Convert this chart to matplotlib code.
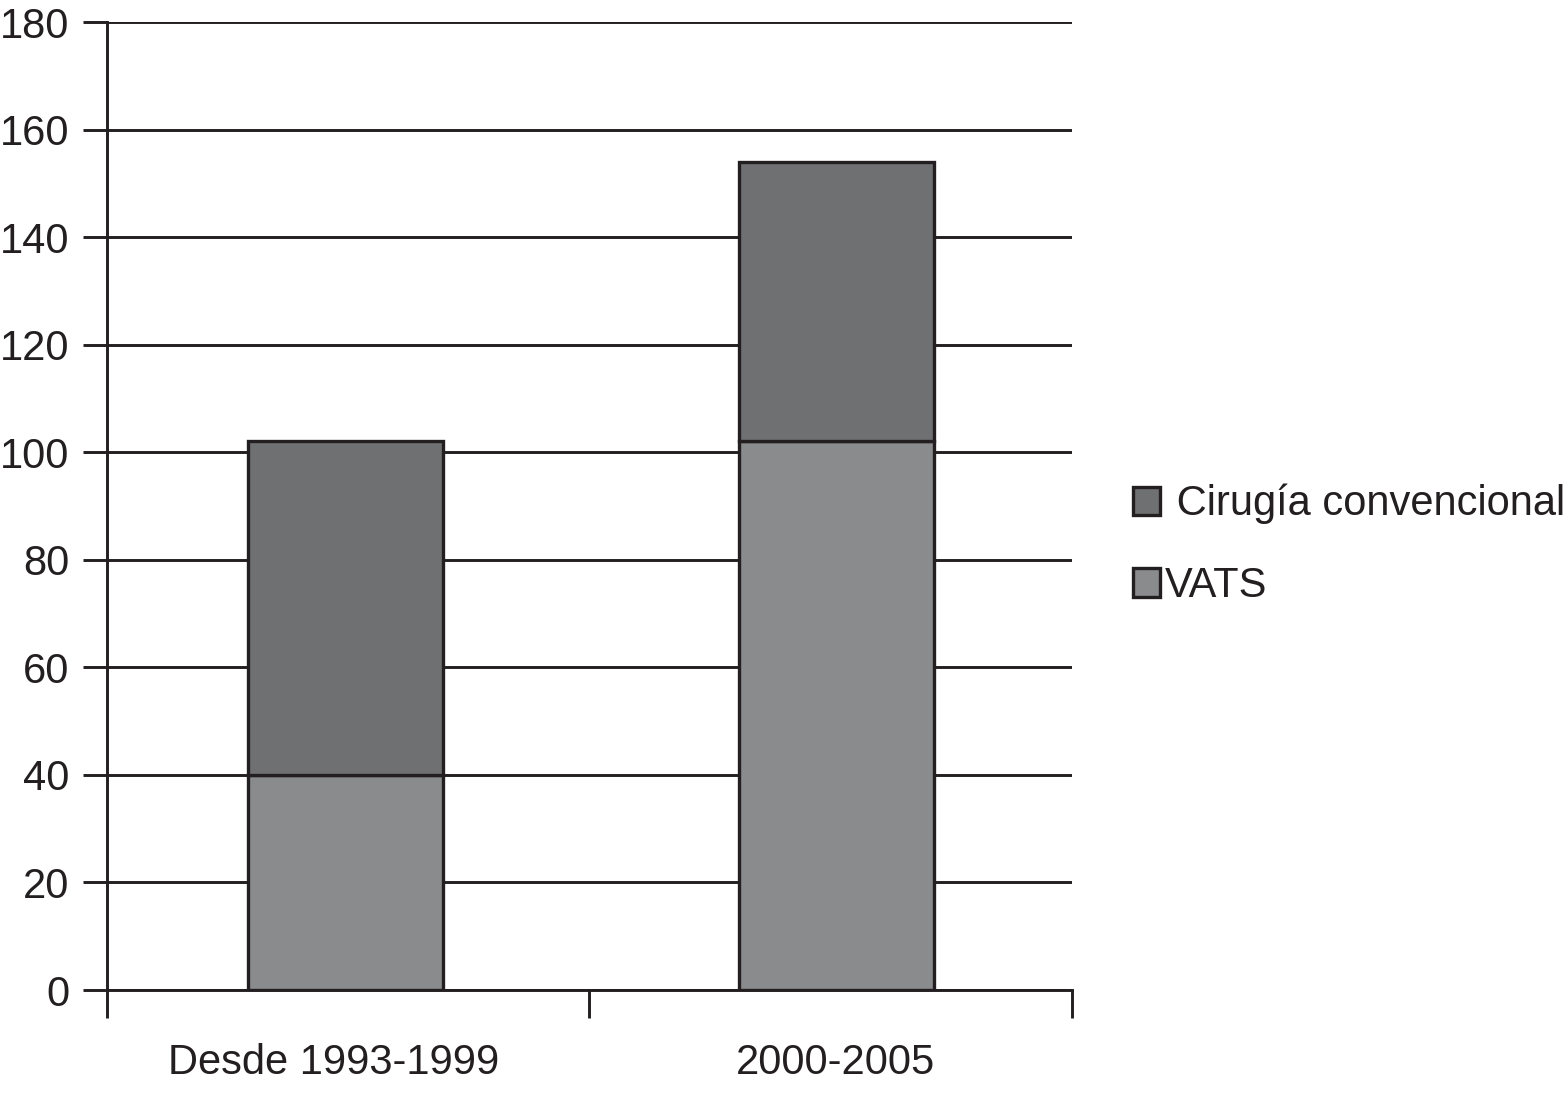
import matplotlib
matplotlib.use("Agg")
import matplotlib.pyplot as plt
import numpy as np

# Datos
categorias = ["Desde 1993-1999", "2000-2005"]
vats = [40, 102]
convencional = [62, 52]

color_conv = "#6f7072"
color_vats = "#8a8b8d"
borde = "#231f20"

plt.rcParams["font.family"] = ["Liberation Sans", "DejaVu Sans"]

fig = plt.figure(figsize=(15.66, 10.96), dpi=100)
ax = fig.add_axes([0.0683, 0.0967, 0.6162, 0.8832])

x = np.arange(len(categorias)) + np.array([-0.005, 0.012])
ancho = 0.405

b1 = ax.bar(x, vats, ancho, color=color_vats, edgecolor=borde,
            linewidth=2.4, zorder=3, label="VATS")
b2 = ax.bar(x, convencional, ancho, bottom=vats, color=color_conv,
            edgecolor=borde, linewidth=2.4, zorder=3,
            label=" Cirugía convencional")

ax.set_xlim(-0.5, 1.5)
ax.set_ylim(0, 180)
ax.set_yticks(np.arange(0, 181, 20))

# ticks de x en los bordes de categoría, etiquetas en el centro
ax.set_xticks([-0.5, 0.5, 1.5])
ax.set_xticklabels([])
ax.set_xticks(np.array([-0.03, 0.01]) + np.arange(len(categorias)), minor=True)
ax.set_xticklabels(categorias, minor=True)
ax.tick_params(axis="x", which="major", length=20, width=2.1,
               color=borde, direction="out")
ax.tick_params(axis="x", which="minor", length=0, pad=38,
               labelsize=30, labelcolor=borde)
ax.tick_params(axis="y", length=17, width=2.1, color=borde,
               direction="out", pad=10, labelsize=30, labelcolor=borde)

ax.grid(axis="y", color=borde, linewidth=2.1, zorder=0)
ax.set_axisbelow(True)

for s in ["top", "right"]:
    ax.spines[s].set_visible(False)
for s in ["left", "bottom"]:
    ax.spines[s].set_linewidth(2.1)
    ax.spines[s].set_color(borde)

leg = ax.legend(handles=[b2, b1], loc="upper left",
                bbox_to_anchor=(1.046, 0.54), frameon=False,
                fontsize=30, handlelength=0.66, handleheight=0.66,
                handletextpad=0.1, labelspacing=1.0, borderaxespad=0)
for t in leg.get_texts():
    t.set_color(borde)

fig.savefig("out.png", dpi=100)
